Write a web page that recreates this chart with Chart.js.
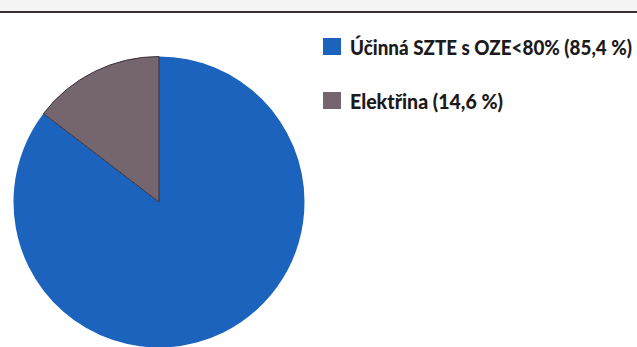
<!DOCTYPE html>
<html>
<head>
<meta charset="utf-8">
<script src="https://cdn.jsdelivr.net/npm/chart.js@4/dist/chart.umd.min.js"></script>
<style>
  html, body { margin: 0; padding: 0; width: 637px; height: 347px; overflow: hidden; background: #ffffff; }
  #topband { position: absolute; left: 0; top: 0; width: 637px; height: 11px; background: #f5f4f4; }
  #rule { position: absolute; left: 0; top: 11px; width: 637px; height: 2px; background: #3b2d31; }
  #pie { position: absolute; left: 13px; top: 56px; width: 292px; height: 292px; }
  #legend { position: absolute; left: 323px; top: 0; }
  .item { position: absolute; left: 0; white-space: nowrap; }
  .box { position: absolute; left: 0; width: 18px; height: 17px; }
  .txt { position: absolute; left: 27px; font-family: Lato, "Open Sans", sans-serif; font-weight: 900;
         font-size: 21px; line-height: 21px; color: #1c1a1b; transform-origin: 0 50%; }
</style>
</head>
<body>
<div id="topband"></div>
<div id="rule"></div>
<div id="pie"><canvas id="c"></canvas></div>
<div id="legend"></div>
<script>
const categories = ["Účinná SZTE s OZE<80% (85,4 %)", "Elektřina (14,6 %)"];
const shares = [85.4, 14.6];
const colors = ["#1b63bd", "#75656e"];

new Chart(document.getElementById('c'), {
  type: 'pie',
  data: {
    labels: categories,
    datasets: [{
      data: shares,
      backgroundColor: colors,
      borderColor: ["#1b63bd", "#3c3036"],
      borderWidth: [0, 1]
    }]
  },
  options: {
    responsive: true,
    maintainAspectRatio: false,
    animation: false,
    layout: { padding: 0 },
    plugins: { legend: { display: false }, tooltip: { enabled: false } }
  }
});

// HTML legend built from the same arrays
const legend = document.getElementById('legend');
const boxTops = [38, 92];
const textWidths = [282, 153];
categories.forEach((label, i) => {
  const item = document.createElement('div');
  item.className = 'item';
  item.style.top = boxTops[i] + 'px';
  const box = document.createElement('div');
  box.className = 'box';
  box.style.background = colors[i];
  const txt = document.createElement('span');
  txt.className = 'txt';
  txt.textContent = label;
  txt.style.top = '-2px';
  item.appendChild(box);
  item.appendChild(txt);
  legend.appendChild(item);
  const w = txt.getBoundingClientRect().width;
  if (w > 0) txt.style.transform = 'scaleX(' + (textWidths[i] / w) + ')';
});
</script>
</body>
</html>
